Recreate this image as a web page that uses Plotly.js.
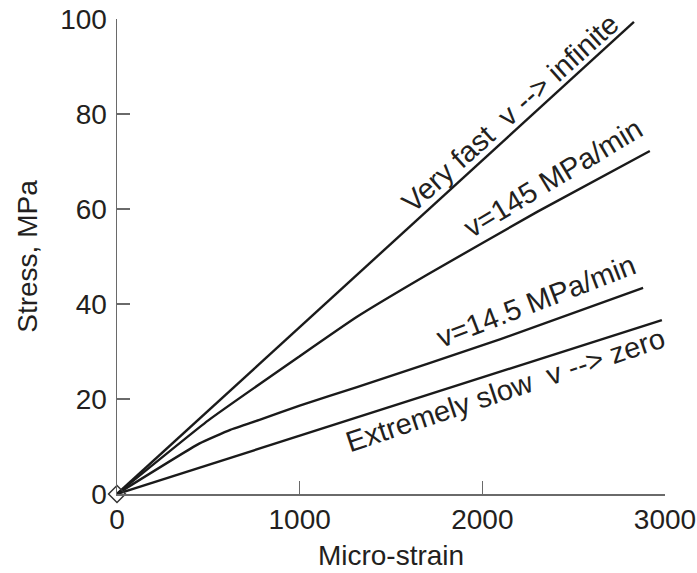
<!DOCTYPE html>
<html>
<head>
<meta charset="utf-8">
<script src="https://cdn.plot.ly/plotly-3.0.1.min.js"></script>
<style>html,body{margin:0;padding:0;background:#fff;}#chart{width:697px;height:573px;}</style>
</head>
<body>
<div id="chart"></div>
<script>
// Data (micro-strain vs stress, MPa)
var fastStrain = [0, 2830];
var fastStress = [0, 99.4];

var v145Strain = [0, 500, 1000, 1314, 1700, 2300, 2917];
var v145Stress = [0, 15.5, 29, 37.3, 46.2, 59.4, 72.2];

var v14Strain = [0, 450, 620, 780, 1000, 1314, 2100, 2880];
var v14Stress = [0, 10.6, 13.5, 15.6, 18.6, 22.5, 32.6, 43.4];

var slowStrain = [0, 2983];
var slowStress = [0, 36.6];

var originStrain = [0];
var originStress = [0];

var labels = ["Very fast\u00a0\u00a0v --> infinite", "v=145 MPa/min", "v=14.5 MPa/min", "Extremely slow\u00a0\u00a0v --> zero"];
var labelX = [2151, 2387, 2295, 2124];
var labelY = [80.3, 66.5, 40.6, 22.0];
var labelAngle = [-42, -31, -21, -18.5];

var xTicks = [0, 1000, 2000, 3000];
var yTicks = [0, 20, 40, 60, 80, 100];

var lineStyle = {color: '#1a1a1a', width: 2.4};
var font = "Liberation Sans, Arial, Helvetica, sans-serif";

var traces = [
  {x: fastStrain, y: fastStress, mode: 'lines', line: lineStyle, hoverinfo: 'skip'},
  {x: v145Strain, y: v145Stress, mode: 'lines', line: Object.assign({shape: 'spline', smoothing: 0.4}, lineStyle), hoverinfo: 'skip'},
  {x: v14Strain, y: v14Stress, mode: 'lines', line: Object.assign({shape: 'spline', smoothing: 0.4}, lineStyle), hoverinfo: 'skip'},
  {x: slowStrain, y: slowStress, mode: 'lines', line: lineStyle, hoverinfo: 'skip'},
  {x: originStrain, y: originStress, mode: 'markers', cliponaxis: false,
   marker: {symbol: 'diamond-open', size: 13, color: '#333', line: {width: 1.5, color: '#333'}}, hoverinfo: 'skip'}
];

var annotations = labels.map(function (t, i) {
  return {x: labelX[i], y: labelY[i], xref: 'x', yref: 'y', text: t, showarrow: false,
          textangle: labelAngle[i], xanchor: 'center', yanchor: 'middle',
          font: {family: font, size: 29, color: '#231f20'}};
});

var axisCommon = {
  showline: true, linecolor: '#6a6a6a', linewidth: 1.5,
  ticks: 'inside', ticklen: 13, tickwidth: 1.5, tickcolor: '#6a6a6a',
  showgrid: false, zeroline: false,
  tickfont: {family: font, size: 28, color: '#231f20'}
};

var layout = {
  width: 697, height: 573,
  margin: {l: 117, r: 32, t: 19, b: 79},
  paper_bgcolor: '#fff', plot_bgcolor: '#fff',
  showlegend: false,
  xaxis: Object.assign({}, axisCommon, {
    range: [0, 3000], tickvals: xTicks, ticktext: xTicks.map(String),
    title: {text: 'Micro-strain', font: {family: font, size: 28, color: '#231f20'}, standoff: 11}
  }),
  yaxis: Object.assign({}, axisCommon, {
    range: [0, 100], tickvals: yTicks, ticktext: yTicks.map(String), ticklabelstandoff: 3,
    title: {text: 'Stress, MPa', font: {family: font, size: 28, color: '#231f20'}, standoff: 14}
  }),
  annotations: annotations
};

Plotly.newPlot('chart', traces, layout, {staticPlot: true, displayModeBar: false});
</script>
</body>
</html>
